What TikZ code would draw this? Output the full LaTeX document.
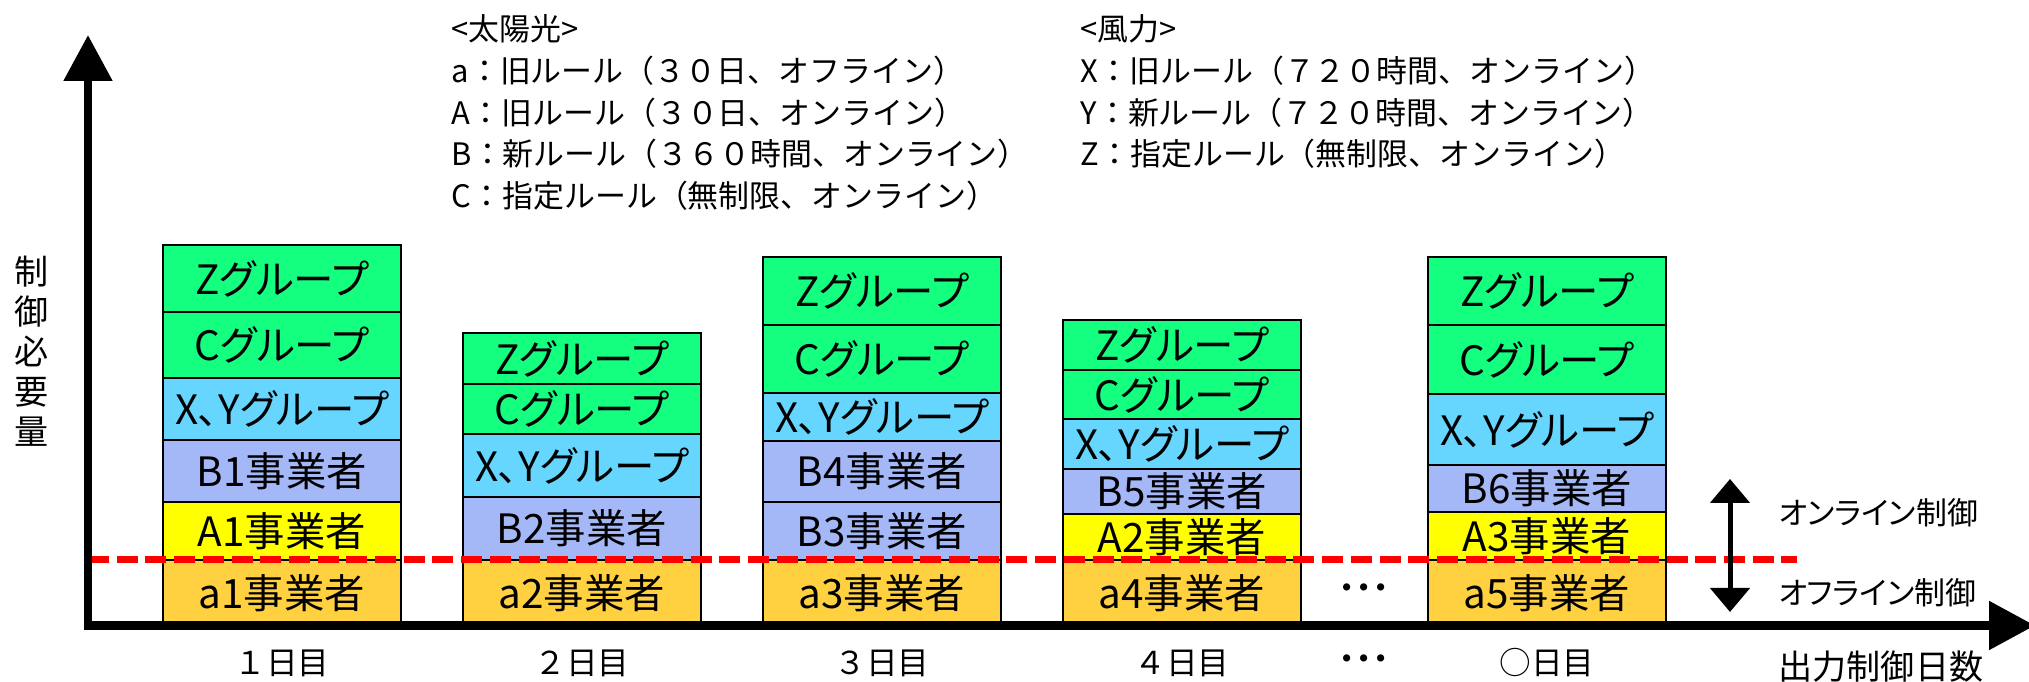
\documentclass[tikz,border=0pt]{standalone}
\usepackage{fontspec}
\setmainfont{Noto Sans CJK JP}[RawFeature=+palt]
\newfontfamily\jpwide{Noto Sans CJK JP}
\usetikzlibrary{arrows.meta,positioning}

\definecolor{grpgreen}{RGB}{20,255,128}
\definecolor{grpcyan}{RGB}{102,214,255}
\definecolor{opblue}{RGB}{164,183,247}
\definecolor{opyellow}{RGB}{255,255,0}
\definecolor{oporange}{RGB}{255,209,65}

\begin{document}
\begin{tikzpicture}[
  every node/.style={font=\fontsize{11.5}{13}\selectfont},
  stackbox/.style={draw, line width=0.45pt, minimum width=2.38cm, inner sep=0pt, outer sep=0pt},
  offbox/.style={stackbox, fill=oporange},
  onbox/.style={stackbox, fill=opyellow},
  newbox/.style={stackbox, fill=opblue},
  windbox/.style={stackbox, fill=grpcyan},
  grpbox/.style={stackbox, fill=grpgreen},
  legtext/.style={anchor=base west, inner sep=0pt, font=\jpwide\fontsize{8.8}{11.8}\selectfont},
  daylabel/.style={inner sep=0pt, font=\jpwide\fontsize{9}{11}\selectfont},
  sidelabel/.style={anchor=west, inner sep=0pt, font=\fontsize{8.8}{11}\selectfont},
  axisline/.style={line width=0.085cm},
  cutline/.style={red, line width=0.067cm, dash pattern=on 0.21cm off 0.077cm},
  ctrlarrow/.style={line width=0.05cm, {Triangle[length=2.4mm, width=3.9mm]}-{Triangle[length=2.4mm, width=3.9mm]}},
]
  \useasboundingbox (-0.88,-0.565) rectangle (19.41,6.255);

  % Legend
  \node[legtext] (solar) at (3.63,5.845) {<太陽光>};
  \node[legtext] (solA) at (3.63,5.43) {a：旧ルール（３０日、オフライン）};
  \node[legtext] (solB) at (3.63,5.01) {A：旧ルール（３０日、オンライン）};
  \node[legtext] (solC) at (3.63,4.595) {B：新ルール（３６０時間、オンライン）};
  \node[legtext] (solD) at (3.63,4.18) {C：指定ルール（無制限、オンライン）};
  \node[legtext] (wind) at (9.92,5.845) {<風力>};
  \node[legtext] (windX) at (9.92,5.43) {X：旧ルール（７２０時間、オンライン）};
  \node[legtext] (windY) at (9.92,5.01) {Y：新ルール（７２０時間、オンライン）};
  \node[legtext] (windZ) at (9.92,4.595) {Z：指定ルール（無制限、オンライン）};

  % Day 1
  \node[offbox, minimum height=6.55mm, anchor=south] (a1) at (1.94,0) {a1事業者};
  \node[onbox, minimum height=5.8mm, above=0pt of a1] (A1) {A1事業者};
  \node[newbox, minimum height=6.2mm, above=0pt of A1] (B1) {B1事業者};
  \node[windbox, minimum height=6.2mm, above=0pt of B1] (xy1) {X、Yグループ};
  \node[grpbox, minimum height=6.6mm, above=0pt of xy1] (c1) {Cグループ};
  \node[grpbox, minimum height=6.7mm, above=0pt of c1] (z1) {Zグループ};

  % Day 2
  \node[offbox, minimum height=6.55mm, anchor=south] (a2) at (4.94,0) {a2事業者};
  \node[newbox, minimum height=6.3mm, above=0pt of a2] (B2) {B2事業者};
  \node[windbox, minimum height=6.3mm, above=0pt of B2] (xy2) {X、Yグループ};
  \node[grpbox, minimum height=5.0mm, above=0pt of xy2] (c2) {Cグループ};
  \node[grpbox, minimum height=5.1mm, above=0pt of c2] (z2) {Zグループ};

  % Day 3
  \node[offbox, minimum height=6.55mm, anchor=south] (a3) at (7.94,0) {a3事業者};
  \node[newbox, minimum height=5.8mm, above=0pt of a3] (B3) {B3事業者};
  \node[newbox, minimum height=6.1mm, above=0pt of B3] (B4) {B4事業者};
  \node[windbox, minimum height=4.8mm, above=0pt of B4] (xy3) {X、Yグループ};
  \node[grpbox, minimum height=6.8mm, above=0pt of xy3] (c3) {Cグループ};
  \node[grpbox, minimum height=6.8mm, above=0pt of c3] (z3) {Zグループ};

  % Day 4
  \node[offbox, minimum height=6.55mm, anchor=south] (a4) at (10.94,0) {a4事業者};
  \node[onbox, minimum height=4.6mm, above=0pt of a4] (A2) {A2事業者};
  \node[newbox, minimum height=4.5mm, above=0pt of A2] (B5) {B5事業者};
  \node[windbox, minimum height=5.0mm, above=0pt of B5] (xy4) {X、Yグループ};
  \node[grpbox, minimum height=4.9mm, above=0pt of xy4] (c4) {Cグループ};
  \node[grpbox, minimum height=5.0mm, above=0pt of c4] (z4) {Zグループ};

  % Day n
  \node[offbox, minimum height=6.55mm, anchor=south] (a5) at (14.59,0) {a5事業者};
  \node[onbox, minimum height=4.8mm, above=0pt of a5] (A3) {A3事業者};
  \node[newbox, minimum height=4.7mm, above=0pt of A3] (B6) {B6事業者};
  \node[windbox, minimum height=7.1mm, above=0pt of B6] (xy5) {X、Yグループ};
  \node[grpbox, minimum height=6.9mm, above=0pt of xy5] (c5) {Cグループ};
  \node[grpbox, minimum height=6.8mm, above=0pt of c5] (z5) {Zグループ};

  % Offline / online boundary
  \coordinate (cutL) at (0,0.66);
  \coordinate (cutR) at (17.09,0.66);
  \draw[cutline] (cutL) -- (cutR);

  % Axes
  \coordinate (O) at (0,0);
  \coordinate (ytop) at (0,5.905);
  \coordinate (xend) at (19.47,0);
  \draw[axisline, {Triangle[length=4.6mm, width=4.7mm]}-{Triangle[length=4.6mm, width=4.7mm]}]
    (ytop) -- (O) -- (xend);
  \node[inner sep=0pt, align=center, font=\fontsize{9.7}{11.4}\selectfont] (ylab) at (-0.56,2.74)
    {制\\御\\必\\要\\量};
  \node[sidelabel, font=\fontsize{9.7}{11}\selectfont] (xlab) at (16.90,-0.41) {出力制御日数};

  % Day labels
  \node[daylabel] (day1) at (1.94,-0.375) {１日目};
  \node[daylabel] (day2) at (4.94,-0.375) {２日目};
  \node[daylabel] (day3) at (7.94,-0.375) {３日目};
  \node[daylabel] (day4) at (10.94,-0.375) {４日目};
  \node[daylabel] (day5) at (14.59,-0.375) {○日目};
  \node[daylabel, font=\jpwide\bfseries\fontsize{9.8}{11}\selectfont] (dotsA) at (12.76,0.335) {･･･};
  \node[daylabel, font=\jpwide\bfseries\fontsize{9.8}{11}\selectfont] (dotsB) at (12.76,-0.375) {･･･};

  % Control range
  \coordinate (arrTop) at (16.42,1.465);
  \coordinate (arrBot) at (16.42,0.135);
  \draw[ctrlarrow] (arrTop) -- (arrBot);
  \node[sidelabel] (online) at (16.90,1.125) {オンライン制御};
  \node[sidelabel] (offline) at (16.90,0.325) {オフライン制御};
\end{tikzpicture}
\end{document}
